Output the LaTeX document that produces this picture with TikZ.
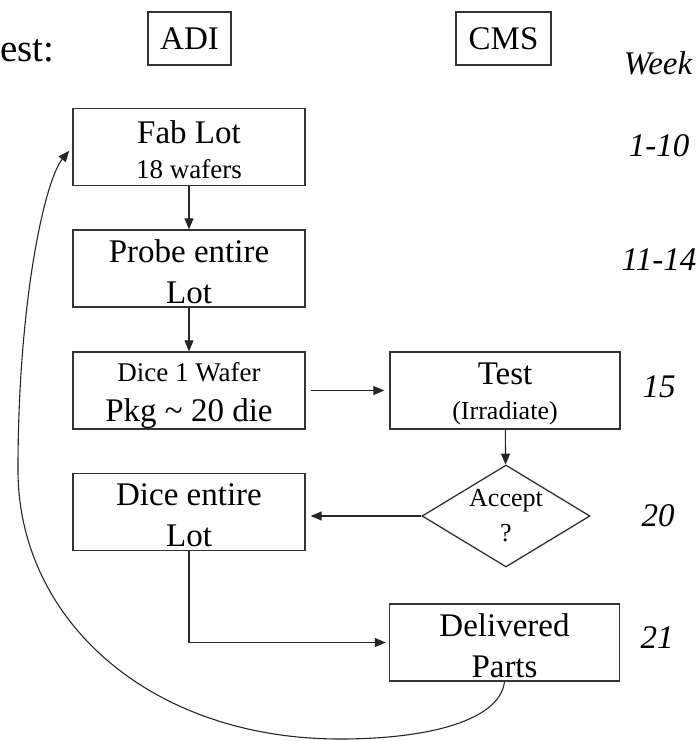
\documentclass[tikz,border=0pt]{standalone}
\usepackage{fontspec}
\setmainfont{Liberation Serif}
\usetikzlibrary{shapes.geometric,arrows.meta}
\newcommand\tp{\rule{0pt}{29pt}}
\begin{document}
\begin{tikzpicture}[x=1pt,y=-1pt,
  box/.style={draw=black!80,line width=1.3pt,minimum width=232pt,minimum height=77pt,inner sep=0pt,align=center,font=\fontsize{33}{41}\selectfont},
  tag/.style={draw=black!80,line width=1.3pt,minimum height=53pt,inner sep=0pt,font=\fontsize{33}{40}\selectfont},
  wk/.style={font=\fontsize{33}{40}\selectfont\itshape,anchor=base,inner sep=0pt},
  arr/.style={-{Triangle[length=11pt,width=9pt]},line width=1.1pt,draw=black!85}]
\useasboundingbox (0,0) rectangle (700,741);
% header
\node[anchor=base west,inner sep=0pt,font=\fontsize{39}{46}\selectfont] (est) at (0,62) {est:};
\node[tag,minimum width=83pt] (adi) at (189.5,38.5) {ADI};
\node[tag,minimum width=95pt] (cms) at (503.5,38.5) {CMS};
\node[wk] (week) at (658,75) {Week};
% ADI side
\node[box] (fab) at (189,147) {\tp Fab Lot\\[-6pt]{\fontsize{27}{30}\selectfont 18 wafers}};
\node[box] (probe) at (189,268.5) {\tp Probe entire\\Lot};
\node[box] (dice1) at (189,390.5) {\tp{\fontsize{27}{30}\selectfont Dice 1 Wafer}\\[-1pt]Pkg \textasciitilde{} 20 die};
\node[box] (diceall) at (189,512) {\tp Dice entire\\Lot};
% CMS side
\node[box,minimum width=230pt] (test) at (505,390.5) {\tp Test\\[-6pt]{\fontsize{26}{30}\selectfont (Irradiate)}};
\node[diamond,aspect=1.65,draw=black!80,line width=1.3pt,inner sep=0pt,minimum width=168pt,minimum height=102pt,align=center,font=\fontsize{26}{35}\selectfont] (accept) at (506,516) {Accept\\?};
\node[box,minimum width=230pt] (deliv) at (504.5,642.5) {\tp Delivered\\Parts};
% weeks
\node[wk] (w1) at (659,157) {1-10};
\node[wk] (w2) at (659,270) {11-14};
\node[wk] (w3) at (659,397) {15};
\node[wk] (w4) at (658,526) {20};
\node[wk] (w5) at (657,648) {21};
% connectors
\draw[arr] (fab) -- (probe);
\draw[arr] (probe) -- (dice1);
\draw[arr,shorten <=5pt,shorten >=5pt] (dice1.east) -- (test.west);
\draw[arr] (test) -- (accept);
\draw[arr,shorten >=5pt] (accept.west) -- (accept.west -| diceall.east);
\draw[arr,shorten >=3pt] (diceall.south) |- (deliv.west);
\coordinate (loopbot) at (340,739);
\draw[arr,shorten >=5pt] (deliv.south) .. controls (500,720) and (430,739) .. (loopbot)
  .. controls (150,739) and (18,620) .. (18,470)
  .. controls (18,300) and (45,180) .. (fab.west);
\end{tikzpicture}
\end{document}
